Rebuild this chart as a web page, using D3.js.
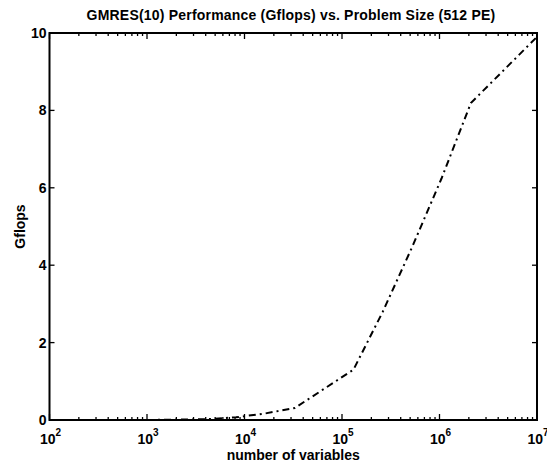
<!DOCTYPE html>
<html>
<head>
<meta charset="utf-8">
<script src="https://cdn.jsdelivr.net/npm/d3@7"></script>
<style>
  body { margin: 0; background: #fff; }
  text { font-family: "Liberation Sans", Arial, sans-serif; font-weight: bold; fill: #000; }
</style>
</head>
<body>
<script>
// data
var problemSize = [1000, 4096, 8192, 16384, 32768, 131072, 262144, 524288, 1048576, 2097152, 10000000];
var gflops      = [0.0, 0.02, 0.07, 0.17, 0.31, 1.3, 2.8, 4.47, 6.24, 8.19, 9.9];
var xTickExp    = [2, 3, 4, 5, 6, 7];
var yTicks      = [0, 2, 4, 6, 8, 10];

var W = 547, H = 466;
var m = {left: 49.5, right: 10, top: 33, bottom: 46};

var svg = d3.select('body').append('svg').attr('width', W).attr('height', H);

var x = d3.scaleLog().domain([1e2, 1e7]).range([m.left, W - m.right]);
var y = d3.scaleLinear().domain([0, 10]).range([H - m.bottom, m.top]);

var x0 = x.range()[0], x1 = x.range()[1], y0 = y.range()[0], y1 = y.range()[1];

// minor ticks, inward, top and bottom
var minors = [];
xTickExp.slice(0, -1).forEach(function(e) {
  for (var k = 2; k <= 9; k++) minors.push(k * Math.pow(10, e));
});
var g = svg.append('g');
g.selectAll('line.mnb').data(minors).enter().append('line')
  .attr('x1', d => x(d)).attr('x2', d => x(d)).attr('y1', y0).attr('y2', y0 - 3)
  .attr('stroke', '#000').attr('stroke-width', 1.3);
g.selectAll('line.mnt').data(minors).enter().append('line')
  .attr('x1', d => x(d)).attr('x2', d => x(d)).attr('y1', y1).attr('y2', y1 + 3)
  .attr('stroke', '#000').attr('stroke-width', 1.3);

// major x ticks
var majors = xTickExp.map(e => Math.pow(10, e));
g.selectAll('line.mjb').data(majors).enter().append('line')
  .attr('x1', d => x(d)).attr('x2', d => x(d)).attr('y1', y0).attr('y2', y0 - 6)
  .attr('stroke', '#000').attr('stroke-width', 1.3);
g.selectAll('line.mjt').data(majors).enter().append('line')
  .attr('x1', d => x(d)).attr('x2', d => x(d)).attr('y1', y1).attr('y2', y1 + 6)
  .attr('stroke', '#000').attr('stroke-width', 1.3);

// y ticks left and right
g.selectAll('line.yl').data(yTicks).enter().append('line')
  .attr('x1', x0).attr('x2', x0 + 5).attr('y1', d => y(d)).attr('y2', d => y(d))
  .attr('stroke', '#000').attr('stroke-width', 1.3);
g.selectAll('line.yr').data(yTicks).enter().append('line')
  .attr('x1', x1).attr('x2', x1 - 5).attr('y1', d => y(d)).attr('y2', d => y(d))
  .attr('stroke', '#000').attr('stroke-width', 1.3);

// frame
svg.append('rect').attr('x', x0).attr('y', y1).attr('width', x1 - x0).attr('height', y0 - y1)
  .attr('fill', 'none').attr('stroke', '#000').attr('stroke-width', 2);

// y labels
svg.selectAll('text.yt').data(yTicks).enter().append('text')
  .attr('x', x0 - 3).attr('y', d => y(d) + 5)
  .attr('text-anchor', 'end').style('font-size', '14px').text(d => d);

// x labels 10^n
var xl = svg.selectAll('text.xt').data(xTickExp).enter().append('text')
  .attr('x', d => x(Math.pow(10, d)) - 9.5).attr('y', y0 + 24)
  .attr('text-anchor', 'start').style('font-size', '14px');
xl.append('tspan').text('10');
xl.append('tspan').attr('dy', -8).style('font-size', '10px').text(d => d);

// line
var line = d3.line().x((d, i) => x(problemSize[i])).y(d => y(d));
svg.append('path').datum(gflops).attr('d', line)
  .attr('fill', 'none').attr('stroke', '#000').attr('stroke-width', 2)
  .attr('stroke-dasharray', '7,4,2,4');

// titles
svg.append('text').attr('x', 291).attr('y', 20).attr('text-anchor', 'middle')
  .style('font-size', '14px').style('letter-spacing', '0.2px')
  .text('GMRES(10) Performance (Gflops) vs. Problem Size (512 PE)');
svg.append('text').attr('x', (x0 + x1) / 2).attr('y', 460).attr('text-anchor', 'middle')
  .style('font-size', '14px').text('number of variables');
svg.append('text').attr('transform', 'translate(25,' + ((y0 + y1) / 2) + ') rotate(-90)')
  .attr('text-anchor', 'middle').style('font-size', '14px').text('Gflops');
</script>
</body>
</html>
